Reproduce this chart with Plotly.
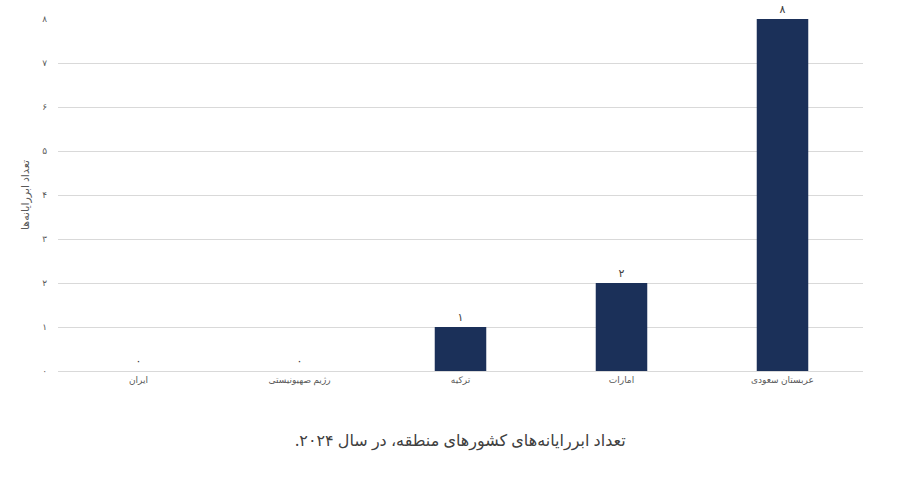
import plotly.graph_objects as go

countries = ["ایران", "رژیم صهیونیستی", "ترکیه", "امارات", "عربستان سعودی"]
counts = [0, 0, 1, 2, 8]
bar_labels = ["۰", "۰", "۱", "۲", "۸"]
y_ticks = [0, 1, 2, 3, 4, 5, 6, 7, 8]
y_tick_text = ["۰", "۱", "۲", "۳", "۴", "۵", "۶", "۷", "۸"]
caption = "تعداد ابررایانه‌های کشورهای منطقه، در سال ۲۰۲۴.\u200f"

FONT = "Noto Sans, DejaVu Sans, sans-serif"

fig = go.Figure(go.Bar(
    x=countries, y=counts, text=bar_labels, textposition="outside",
    textfont=dict(size=11, color="#404040"), cliponaxis=False,
    marker=dict(color="#1b3059", line=dict(width=0)),
))
fig.update_layout(
    width=897, height=479,
    margin=dict(l=58, r=34, t=19, b=108),
    paper_bgcolor="white", plot_bgcolor="white",
    bargap=0.68, showlegend=False,
    font=dict(family=FONT, color="#595959", size=10),
    annotations=[dict(
        text=caption,
        xref="paper", yref="paper", x=0.5, y=-0.196, yanchor="middle",
        showarrow=False, font=dict(size=16, color="#404040"),
    )],
)
fig.update_xaxes(showgrid=False, showline=True, linecolor="#d9d9d9",
                 ticks="", tickfont=dict(size=9), automargin=False)
fig.update_yaxes(range=[0, 8], tickvals=y_ticks, ticktext=y_tick_text,
                 gridcolor="#d9d9d9", zeroline=False, ticks="",
                 ticklabelstandoff=10, tickfont=dict(size=9), automargin=False,
                 title=dict(text="تعداد ابررایانه‌ها", font=dict(size=11, color="#595959"),
                            standoff=10))
# drop the browser's default 8px body margin so the figure sits at the corner
fig.write_html("out.html", config={"displayModeBar": False},
               post_script="document.body.style.margin='0';")
